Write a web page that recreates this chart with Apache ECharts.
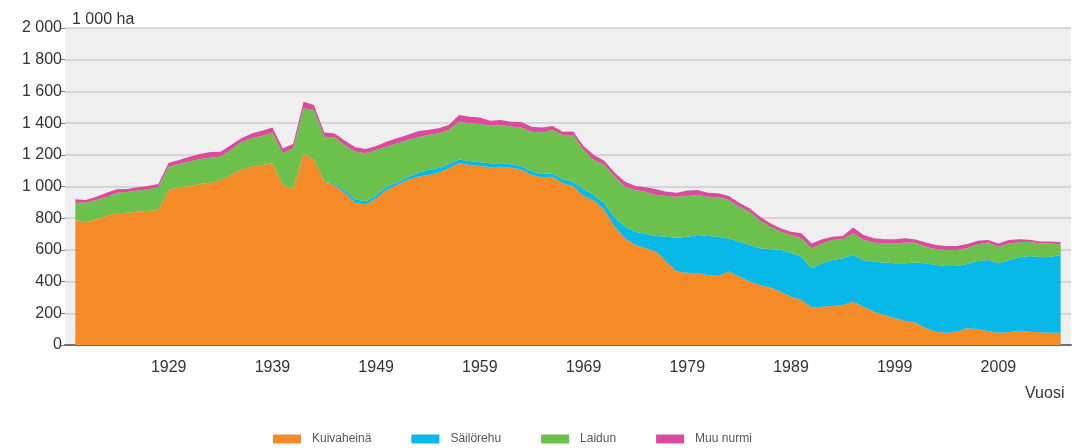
<!DOCTYPE html>
<html><head><meta charset="utf-8">
<script src="https://cdn.jsdelivr.net/npm/echarts@6/dist/echarts.min.js"></script>
<style>html,body{margin:0;padding:0;background:#fff}#c{width:1077px;height:448px}</style>
</head><body><div id="c"></div>
<script>
const years = [];
for (let y = 1920; y <= 2015; y++) years.push(y);

const kuivaheina = [789,774,793,814,831,835,841,847,852,978,993,1003,1016,1024,1041,1073,1108,1125,1136,1146,
1009,988,1209,1167,1030,1009,957,898,887,925,978,1009,1041,1062,1073,1087,1115,1146,1136,1130,
1121,1125,1119,1108,1073,1058,1062,1020,1003,940,911,852,746,673,631,610,589,526,463,456,
452,442,435,463,431,400,379,362,336,305,284,238,242,246,252,273,242,210,189,168,
153,141,105,84,78,84,105,99,88,78,80,90,84,80,78,78];
const sailorehu = [0,0,0,0,0,0,0,0,0,0,0,0,0,0,0,0,0,0,0,0,
0,0,0,0,0,10,18,22,18,20,20,17,17,23,31,30,27,25,25,23,
25,21,21,21,23,21,21,25,27,43,35,42,59,73,84,90,99,157,214,227,
242,246,248,209,221,231,231,242,263,277,273,246,273,290,295,295,294,316,331,347,
362,379,410,421,420,414,406,431,448,437,456,463,478,473,479,490];
const laidun = [109,124,122,120,130,130,133,135,143,147,149,154,157,158,149,157,172,179,182,194,
200,253,284,316,284,290,287,300,304,285,253,246,235,224,221,218,214,238,238,241,
237,242,238,244,250,261,273,280,295,247,221,242,257,253,263,267,258,257,259,257,
252,248,249,243,221,210,175,142,116,112,116,126,126,126,120,137,126,120,121,126,
131,125,105,99,101,101,99,105,110,105,105,97,90,88,84,67];
const muuNurmi = [21,17,21,27,21,19,21,21,21,25,25,31,32,36,30,32,24,31,34,33,
32,27,42,31,26,26,27,27,27,25,32,32,32,40,31,32,32,42,41,42,
32,32,31,34,31,33,25,21,22,26,32,27,25,31,25,28,36,27,24,34,
32,24,25,25,25,21,25,22,21,21,32,31,26,21,21,37,32,27,26,26,
27,20,26,27,26,26,27,23,16,21,21,17,12,12,12,15];

const seriesNames = ['Kuivaheinä','Säilörehu','Laidun','Muu nurmi'];
const seriesColors = ['#F58B26','#06B9E8','#6CC14C','#DC4A9E'];

// axis categories: one empty year of padding at each end
const axisYears = [1919].concat(years, [2016]);
const pad = arr => ['-'].concat(arr, ['-']);

const chart = echarts.init(document.getElementById('c'));
const font = "'Liberation Sans', Arial, sans-serif";
const dataArr = [kuivaheina, sailorehu, laidun, muuNurmi];

chart.setOption({
  animation: false,
  textStyle: {fontFamily: font},
  grid: {left: 65, right: 6, top: 28, bottom: 103, show: true, backgroundColor: '#efefef', borderWidth: 0},
  legend: {
    left: 268, top: 428, itemWidth: 28, itemHeight: 9, itemGap: 40,
    icon: 'rect',
    textStyle: {fontSize: 12, color: '#555', fontFamily: font, padding: [0, 0, 0, 6]},
    data: seriesNames
  },
  graphic: [
    {type: 'text', left: 72, top: 12, style: {text: '1 000 ha', fill: '#333', font: "16px 'Liberation Sans', Arial, sans-serif"}},
    {type: 'text', left: 1025, top: 386, style: {text: 'Vuosi', fill: '#333', font: "16px 'Liberation Sans', Arial, sans-serif"}}
  ],
  xAxis: {
    type: 'category', data: axisYears.map(String), boundaryGap: false,
    axisLine: {show: true, lineStyle: {color: '#6f6f6f', width: 2}},
    axisTick: {show: false},
    splitLine: {show: false},
    axisLabel: {margin: 15, fontSize: 16, color: '#333',
      interval: (idx, val) => { const v = +val; return v !== 1919 && (v - 1919) % 10 === 0; }}
  },
  yAxis: {
    type: 'value', min: 0, max: 2000, interval: 200,
    axisLine: {show: false},
    axisTick: {show: true, length: 4, lineStyle: {color: '#777'}},
    splitLine: {show: true, lineStyle: {color: '#cdcdcd', width: 1.5}},
    axisLabel: {margin: 3, fontSize: 16, color: '#333',
      formatter: v => String(v).replace(/\B(?=(\d{3})+(?!\d))/g, ' ')}
  },
  series: seriesNames.map((n, i) => ({
    name: n, type: 'line', stack: 'total', showSymbol: false, symbol: 'none',
    lineStyle: {width: 0}, itemStyle: {color: seriesColors[i]},
    areaStyle: {color: seriesColors[i], opacity: 1},
    data: pad(dataArr[i])
  }))
});
</script></body></html>
